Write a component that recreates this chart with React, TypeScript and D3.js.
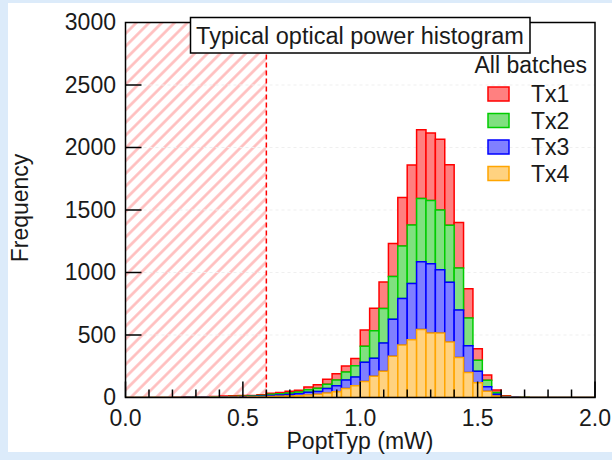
import React from "react";
import * as d3 from "d3";

const binWidth = 0.04;
const binCount = 50;
const seriesNames = ["Tx1", "Tx2", "Tx3", "Tx4"];
const tx1 = [0,0,0,0,0,1,3,3,2,2,5,6,6,4,6,9,11,14,14,23,28,41,50,47,58,130,180,212,265,388,480,550,540,567,485,363,233,93,42,20,5,2,1,0,0,0,0,0,0,0];
const tx2 = [0,0,0,0,0,0,0,1,1,3,3,3,4,5,5,9,10,11,14,20,27,33,45,65,90,128,220,275,341,420,467,505,506,477,456,337,223,87,51,13,4,1,1,0,0,0,0,0,0,0];
const tx3 = [0,0,0,0,0,0,2,2,1,1,2,2,3,4,6,9,10,13,15,22,21,37,48,68,70,154,145,227,297,373,450,542,554,506,477,379,214,93,36,14,3,1,0,0,0,0,0,0,0,0];
const tx4 = [0,1,1,1,1,1,1,1,1,2,2,3,3,4,5,8,10,12,15,20,27,36,47,72,95,128,170,210,330,420,463,545,517,517,445,321,200,118,51,13,2,1,1,0,0,0,0,0,0,0];
const yTicks = [0, 500, 1000, 1500, 2000, 2500, 3000];
const xMajorTicks = [0, 0.5, 1.0, 1.5, 2.0];
const xMinorTicks = [0.1, 0.2, 0.3, 0.4, 0.6, 0.7, 0.8, 0.9, 1.1, 1.2, 1.3, 1.4, 1.6, 1.7, 1.8, 1.9];
const limitX = 0.6;

const fills = ["#ff8080", "#80e080", "#8080ff", "#ffd280"];
const strokes = ["#ff0000", "#00cc00", "#0000ff", "#ffa500"];

const FONT = "'Liberation Sans', Arial, sans-serif";

export default function App() {
  const W = 612, H = 460;
  const L = 125.5, R = 595, T = 22.5, B = 397.5;
  const x = d3.scaleLinear().domain([0, 2]).range([L, R]);
  const y = d3.scaleLinear().domain([0, 3000]).range([B, T]);

  const rows = d3.range(binCount).map((k) => ({
    k,
    Tx1: tx1[k],
    Tx2: tx2[k],
    Tx3: tx3[k],
    Tx4: tx4[k],
  }));
  const stack = d3.stack<any>().keys(["Tx4", "Tx3", "Tx2", "Tx1"]);
  const layers = stack(rows);
  const layerByName: Record<string, any> = {};
  layers.forEach((l) => (layerByName[l.key] = l));

  const drawOrder = ["Tx1", "Tx2", "Tx3", "Tx4"];

  const barPath = (k: number, y0: number, y1: number) => {
    const xa = x(k * binWidth);
    const xb = x((k + 1) * binWidth);
    const ya = y(y0);
    const yb = y(y1);
    return `M${xa},${ya}V${yb}H${xb}V${ya}Z`;
  };

  return (
    <svg width={W} height={H} style={{ position: "absolute", left: 0, top: 0 }} fontFamily={FONT}>
      <defs>
        <pattern id="hatch" patternUnits="userSpaceOnUse" width="9" height="9" patternTransform="rotate(45)">
          <line x1="4.5" y1="-1" x2="4.5" y2="10" stroke="#ffbcbc" strokeWidth="2.6" />
        </pattern>
        <clipPath id="plotClip">
          <rect x={L} y={T} width={R - L} height={B - T} />
        </clipPath>
      </defs>
      <rect x={0} y={0} width={W} height={H} fill="#dcebfa" />
      <rect x={8} y={3} width={W - 8} height={449} fill="#ffffff" />

      <rect x={x(0)} y={T} width={x(limitX) - x(0)} height={B - T} fill="url(#hatch)" />

      {yTicks.slice(1, -1).map((v) => (
        <line key={"g" + v} x1={L} x2={R} y1={y(v)} y2={y(v)} stroke="#efefef" strokeWidth={1} strokeDasharray="3,3" />
      ))}

      <g clipPath="url(#plotClip)">
        {drawOrder.map((name, si) => {
          const layer = layerByName[name];
          return (
            <g key={name}>
              {layer.map((d: any, k: number) => (
                <path
                  key={k}
                  d={barPath(k, d[0], d[1])}
                  fill={fills[si]}
                  stroke={strokes[si]}
                  strokeWidth={1.5}
                  strokeLinejoin="miter"
                />
              ))}
            </g>
          );
        })}
      </g>

      <line x1={x(limitX)} x2={x(limitX)} y1={T} y2={B} stroke="#ff0000" strokeWidth={1.5} strokeDasharray="5,3" />

      {yTicks.slice(1, -1).map((v) => (
        <line key={"yt" + v} x1={L} x2={L + 16} y1={y(v)} y2={y(v)} stroke="#000" strokeWidth={1.5} />
      ))}
      {xMajorTicks.map((v) => (
        <line key={"xM" + v} x1={x(v)} x2={x(v)} y1={B} y2={B - 16} stroke="#000" strokeWidth={1.5} />
      ))}
      {xMinorTicks.map((v) => (
        <line key={"xm" + v} x1={x(v)} x2={x(v)} y1={B} y2={B - 8} stroke="#000" strokeWidth={1.5} />
      ))}

      <rect x={L} y={T} width={R - L} height={B - T} fill="none" stroke="#000" strokeWidth={1.5} />

      {yTicks.map((v) => (
        <text key={"yl" + v} x={116} y={y(v)} dy="0.34em" textAnchor="end" fontSize={23} fill="#1a1a1a">
          {v}
        </text>
      ))}
      {xMajorTicks.map((v) => (
        <text key={"xl" + v} x={x(v)} y={426} textAnchor="middle" fontSize={23} fill="#1a1a1a">
          {d3.format(".1f")(v)}
        </text>
      ))}

      <text x={360} y={449} textAnchor="middle" fontSize={23} fill="#1a1a1a">PoptTyp (mW)</text>
      <text transform="translate(28,208) rotate(-90)" textAnchor="middle" fontSize={23} fill="#1a1a1a">Frequency</text>

      <rect x={190.5} y={17.5} width={339.5} height={35.5} fill="#fff" stroke="#000" strokeWidth={1.5} />
      <text x={360} y={44} textAnchor="middle" fontSize={23.5} fill="#1a1a1a">Typical optical power histogram</text>

      <text x={587} y={73} textAnchor="end" fontSize={23} fill="#1a1a1a">All batches</text>
      {seriesNames.map((n, i) => {
        const cy = 94 + i * 26.5;
        return (
          <g key={n}>
            <rect x={488} y={cy - 7} width={21} height={14} fill={fills[i]} stroke={strokes[i]} strokeWidth={1.5} />
            <text x={531} y={cy + 8} fontSize={23} fill="#1a1a1a">{n}</text>
          </g>
        );
      })}
    </svg>
  );
}
